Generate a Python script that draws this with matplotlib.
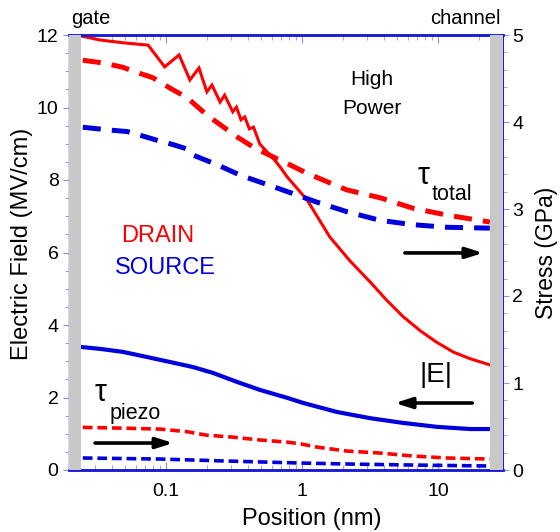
import numpy as np
import matplotlib
matplotlib.use('Agg')
from matplotlib import pyplot as plt
from matplotlib.ticker import LogLocator, FixedLocator, MultipleLocator, NullFormatter

plt.rcParams['font.family'] = ['Liberation Sans', 'DejaVu Sans']
plt.rcParams['lines.scale_dashes'] = False

# |E| drain (MV/cm), left axis
x_e_drain = [0.024, 0.033, 0.05, 0.074, 0.098, 0.125, 0.15, 0.175, 0.2, 0.218,
             0.25, 0.27, 0.31, 0.33, 0.356, 0.38, 0.41, 0.44, 0.49, 0.63,
             0.69, 0.78, 1.09, 1.6, 2.25, 3.2, 4.2, 5.5, 7.4, 9.8, 13, 17.2, 24]
e_drain = [11.97, 11.86, 11.78, 11.72, 11.12, 11.45, 10.76, 11.09, 10.43, 10.62,
           10.15, 10.34, 9.88, 10.01, 9.66, 9.74, 9.41, 9.46, 8.99, 8.55,
           8.36, 8.08, 7.45, 6.43, 5.77, 5.17, 4.68, 4.24, 3.84, 3.52, 3.25, 3.07, 2.90]

# |E| source (MV/cm), left axis
x_e_source = [0.0245, 0.033, 0.048, 0.068, 0.107, 0.158, 0.221, 0.333, 0.49,
              0.78, 1.02, 1.81, 3.16, 5.5, 9.8, 17.2, 24]
e_source = [3.39, 3.34, 3.26, 3.14, 2.98, 2.84, 2.68, 2.43, 2.21,
            1.99, 1.85, 1.60, 1.43, 1.30, 1.19, 1.13, 1.13]

# tau_total (GPa), right axis
x_tot_drain = [0.0245, 0.034, 0.048, 0.061, 0.080, 0.107, 0.143, 0.2, 0.25, 0.34,
               0.44, 0.61, 0.81, 1.09, 2.13, 3.73, 6.5, 11.6, 24]
tot_drain = [4.71, 4.68, 4.63, 4.57, 4.51, 4.39, 4.28, 4.08, 3.97, 3.82,
             3.71, 3.60, 3.51, 3.41, 3.22, 3.13, 3.01, 2.93, 2.85]
x_tot_source = [0.0245, 0.037, 0.052, 0.064, 0.086, 0.113, 0.143, 0.158, 0.237, 0.35,
                0.78, 1.28, 2.13, 3.73, 6.5, 11.6, 24]
tot_source = [3.94, 3.91, 3.89, 3.85, 3.79, 3.74, 3.69, 3.62, 3.51, 3.39,
              3.20, 3.08, 2.97, 2.87, 2.82, 2.79, 2.78]

# tau_piezo (GPa), right axis
x_pz_drain = [0.0245, 0.052, 0.091, 0.143, 0.2, 0.3, 0.49, 0.78, 0.98, 1.28,
              2.13, 3.73, 6.5, 11.6, 24]
pz_drain = [0.49, 0.48, 0.47, 0.44, 0.40, 0.38, 0.345, 0.32, 0.30, 0.264,
            0.218, 0.195, 0.161, 0.138, 0.126]
x_pz_source = [0.0245, 0.091, 0.28, 0.98, 2.13, 6.5, 24]
pz_source = [0.138, 0.126, 0.103, 0.080, 0.069, 0.057, 0.046]

red = '#ff0000'
blue = '#0000dd'
spine_blue = '#1a1ad6'
light_blue = '#8c8cff'

fig = plt.figure(figsize=(5.6, 5.32), dpi=100)
ax = fig.add_axes([69 / 560, 1 - 470 / 532, 434 / 560, 435 / 532])
ax2 = ax.twinx()

ax.set_xscale('log')
ax.set_xlim(0.0194, 30)
ax.set_ylim(0, 12)
ax2.set_ylim(0, 5)

# gray electrode bars
ax2.axvspan(0.0194, 0.0239, color='#c8c8c8', zorder=5, lw=0)
ax2.axvspan(24.2, 30, color='#c8c8c8', zorder=5, lw=0)

ax.plot(x_e_drain, e_drain, color=red, lw=2.2, solid_joinstyle='miter')
ax.plot(x_e_source, e_source, color=blue, lw=3.0)

l1, = ax2.plot(x_tot_drain, tot_drain, color=red, lw=3.6)
l2, = ax2.plot(x_tot_source, tot_source, color=blue, lw=3.6)
for l in (l1, l2):
    l.set_dashes((13, 8))
l3, = ax2.plot(x_pz_drain, pz_drain, color=red, lw=2.6)
l4, = ax2.plot(x_pz_source, pz_source, color=blue, lw=2.6)
for l in (l3, l4):
    l.set_dashes((7, 3.5))

# spines and ticks
for a in (ax, ax2):
    a.spines['top'].set_color(spine_blue)
    a.spines['top'].set_linewidth(1.8)
    a.spines['bottom'].set_color(spine_blue)
    a.spines['bottom'].set_linewidth(1.8)
    a.spines['right'].set_color(spine_blue)
    a.spines['right'].set_linewidth(1.3)
    a.spines['left'].set_color(light_blue)
    a.spines['left'].set_linewidth(1.0)

ax.xaxis.set_major_locator(FixedLocator([0.1, 1, 10]))
ax.xaxis.set_minor_locator(LogLocator(base=10, subs=np.arange(2, 10)))
ax.xaxis.set_minor_formatter(NullFormatter())
ax.set_xticklabels(['0.1', '1', '10'])
ax.tick_params(axis='x', which='both', direction='in', top=True, bottom=True,
               color=light_blue, labelsize=14, pad=9)
ax.tick_params(axis='x', which='major', length=6)
ax.tick_params(axis='x', which='minor', length=3.5)

ax.yaxis.set_major_locator(MultipleLocator(2))
ax.yaxis.set_minor_locator(MultipleLocator(0.5))
ax.tick_params(axis='y', which='both', direction='out', color=light_blue,
               labelsize=14, pad=3.5)
ax.tick_params(axis='y', which='major', length=4)
ax.tick_params(axis='y', which='minor', length=3)

ax2.yaxis.set_major_locator(MultipleLocator(1))
ax2.yaxis.set_minor_locator(MultipleLocator(0.2))
ax2.tick_params(axis='y', which='both', direction='out', color=light_blue,
                labelsize=14, pad=2.5)
ax2.tick_params(axis='y', which='major', length=4)
ax2.tick_params(axis='y', which='minor', length=3)

ax.set_xlabel('Position (nm)', fontsize=17)
ax.xaxis.set_label_coords(0.56, -0.087)
ax.set_ylabel('Electric Field (MV/cm)', fontsize=17)
ax.yaxis.set_label_coords(-0.083, 0.52)
ax2.set_ylabel('Stress (GPa)', fontsize=16.5, rotation=90)
ax2.yaxis.set_label_coords(1.074, 0.5)

# annotations
fig.text(71 / 560, 1 - 19 / 532, 'gate', fontsize=14.5, ha='left', va='center')
fig.text(501 / 560, 1 - 19 / 532, 'channel', fontsize=14.5, ha='right', va='center')

T = ax2.transAxes
ax2.text(0.698, 0.897, 'High', fontsize=15, ha='center', va='center', transform=T)
ax2.text(0.698, 0.830, 'Power', fontsize=15, ha='center', va='center', transform=T)
ax2.text(0.120, 0.538, 'DRAIN', fontsize=17, color=red, ha='left', va='center', transform=T)
ax2.text(0.106, 0.464, 'SOURCE', fontsize=17, color=blue, ha='left', va='center', transform=T)

ax2.text(0.816, 0.676, 'τ', fontsize=22, ha='center', va='center', transform=T)
ax2.text(0.882, 0.634, 'total', fontsize=15.5, ha='center', va='center', transform=T)
ax2.text(0.074, 0.177, 'τ', fontsize=22, ha='center', va='center', transform=T)
ax2.text(0.152, 0.129, 'piezo', fontsize=15.5, ha='center', va='center', transform=T)
ax2.text(0.846, 0.218, '|E|', fontsize=20, ha='center', va='center', transform=T)

arrow = dict(arrowstyle='-|>,head_length=1.0,head_width=0.32', color='black',
             lw=2.6, shrinkA=0, shrinkB=0)
ax2.annotate('', xy=(0.954, 0.499), xytext=(0.774, 0.499), xycoords=T, textcoords=T,
             arrowprops=arrow)
ax2.annotate('', xy=(0.751, 0.154), xytext=(0.929, 0.154), xycoords=T, textcoords=T,
             arrowprops=arrow)
ax2.annotate('', xy=(0.240, 0.062), xytext=(0.060, 0.062), xycoords=T, textcoords=T,
             arrowprops=arrow)

fig.savefig('out.png', dpi=100)
